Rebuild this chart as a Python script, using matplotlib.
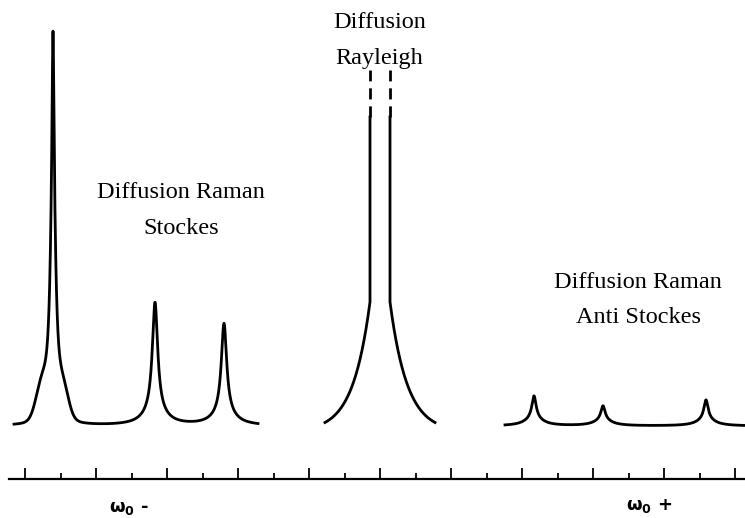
import numpy as np
import matplotlib
matplotlib.use("Agg")
import matplotlib.pyplot as plt

# everything is in picture units (x to the right, y downwards)
baseline = 426

# Stokes lines (left group): narrow core + broader wing, both Lorentzian
stokes_span = (14, 258)
stokes_pos = [53, 155, 224]
stokes_core_amp = [138, 109, 90]
stokes_core_gam = [1.0, 3.2, 3.2]
stokes_wing_amp = [245, 14, 12]
stokes_wing_gam = [3.1, 12, 12]
# shoulders on the strong Stokes line
shoulder_pos = [42, 63]
shoulder_amp = [33, 28]
shoulder_sig = [6, 5.5]

# anti-Stokes lines (right group)
anti_span = (505, 745)
anti_pos = [534, 603, 706]
anti_core_amp = [22, 14, 19]
anti_core_gam = [2.5, 2.5, 2.5]
anti_wing_amp = [8, 6, 7]
anti_wing_gam = [10, 10, 10]

# Rayleigh line (off scale, cut at the top)
ray_pos = 380
ray_amp = 124       # height of the flank where the vertical strokes start
ray_decay = 17.2
ray_offset = 6
ray_gap = 10        # half distance between the two vertical strokes
ray_reach = 55      # half width of the drawn flanks
ray_solid_top = 117
ray_dash_top = 70

# frequency axis
axis_y = 479
axis_span = (9, 745)
major_ticks = np.arange(25, 746, 71)
minor_ticks = major_ticks[:-1] + 35.5

# text lines: (text, x centre, baseline y)
label_lines = [
    ("Diffusion Raman", 181, 198),
    ("Stockes", 181, 234),
    ("Diffusion", 380, 28),
    ("Rayleigh", 379, 64),
    ("Diffusion Raman", 638, 288),
    ("Anti Stockes", 638, 323),
]
omega_labels = [("ω$_\\mathbf{0}$ -", 129, 508), ("ω$_\\mathbf{0}$ +", 649, 506)]


def lorentz(x, x0, a, g):
    return a * g**2 / ((x - x0)**2 + g**2)


def gauss(x, x0, a, s):
    return a * np.exp(-(x - x0)**2 / (2 * s**2))


fig = plt.figure(figsize=(7.45, 5.18), dpi=100)
ax = fig.add_axes([0, 0, 1, 1])
ax.set_xlim(0, 745)
ax.set_ylim(518, 0)

lw = 2.0

# Stokes
x = np.linspace(*stokes_span, 4000)
h = np.zeros_like(x)
for i, p in enumerate(stokes_pos):
    h += lorentz(x, p, stokes_core_amp[i], stokes_core_gam[i])
    h += lorentz(x, p, stokes_wing_amp[i], stokes_wing_gam[i])
for p, a, s in zip(shoulder_pos, shoulder_amp, shoulder_sig):
    h += gauss(x, p, a, s)
ax.plot(x, baseline - h, color="black", lw=lw)

# anti-Stokes
x = np.linspace(*anti_span, 4000)
h = np.zeros_like(x)
for i, p in enumerate(anti_pos):
    h += lorentz(x, p, anti_core_amp[i], anti_core_gam[i])
    h += lorentz(x, p, anti_wing_amp[i], anti_wing_gam[i])
ax.plot(x, baseline - h, color="black", lw=lw)

# Rayleigh: two flanks, vertical strokes, dashed continuation
for side in (-1, 1):
    d = np.linspace(ray_gap, ray_reach, 400)
    xs = ray_pos + side * d
    ys = baseline - ((ray_amp + ray_offset) * np.exp(-(d - ray_gap) / ray_decay) - ray_offset)
    xv = ray_pos + side * ray_gap
    ax.plot(np.r_[xv, xs], np.r_[ray_solid_top, ys], color="black", lw=lw)
    ax.plot([xv, xv], [ray_solid_top, ray_dash_top], color="black", lw=lw,
            linestyle=(0, (4, 2.5)))

# axis as a spine with inward ticks
for s in ["top", "left", "right"]:
    ax.spines[s].set_visible(False)
ax.spines["bottom"].set_position(("data", axis_y))
ax.spines["bottom"].set_bounds(*axis_span)
ax.spines["bottom"].set_linewidth(1.6)
ax.set_yticks([])
ax.set_xticks(major_ticks)
ax.set_xticks(minor_ticks, minor=True)
ax.tick_params(axis="x", which="major", direction="in", length=8, width=1.3,
               labelbottom=False)
ax.tick_params(axis="x", which="minor", direction="in", length=4.5, width=1.3)

for txt, tx, ty in label_lines:
    ax.text(tx, ty, txt, ha="center", va="baseline", fontsize=17.5,
            family="Liberation Serif")
for txt, tx, ty in omega_labels:
    ax.text(tx, ty, txt, ha="center", va="center", fontsize=13,
            fontweight="bold", family="DejaVu Sans")

fig.savefig("out.png", dpi=100)
